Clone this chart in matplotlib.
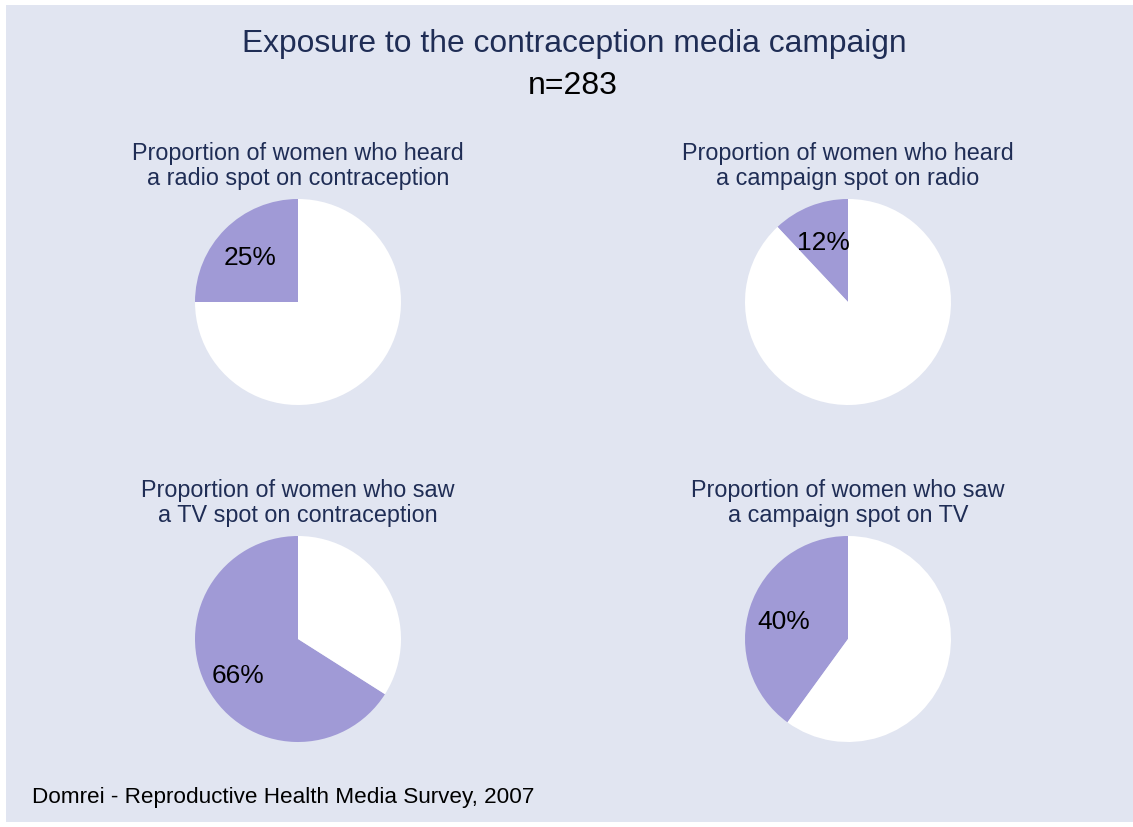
import math
import matplotlib.pyplot as plt
from matplotlib.patches import Rectangle

W, H = 1133, 827

title = "Exposure to the contraception media campaign"
subtitle = "n=283"
panel_titles = [
    "Proportion of women who heard\na radio spot on contraception",
    "Proportion of women who heard\na campaign spot on radio",
    "Proportion of women who saw\na TV spot on contraception",
    "Proportion of women who saw\na campaign spot on TV",
]
yes_pct = [25, 12, 66, 40]
footer = "Domrei - Reproductive Health Media Survey, 2007"

bg = '#e1e5f1'
purple = '#a09ad6'
navy = '#1f2d55'

plt.rcParams['font.family'] = ['Liberation Sans', 'DejaVu Sans']

fig = plt.figure(figsize=(W / 100, H / 100), dpi=100)
fig.patch.set_facecolor('white')
fig.patches.append(Rectangle((6 / W, 1 - 822 / H), (W - 6) / W, (822 - 5) / H,
                             transform=fig.transFigure, facecolor=bg,
                             edgecolor='none', zorder=-1))

fig.text(574 / W, 1 - 44 / H, title, ha='center', va='center', fontsize=22.9, color=navy)
fig.text(573 / W, 1 - 86 / H, subtitle, ha='center', va='center', fontsize=23, color='black')

# pie centres in pixels (x, y from top)
centres = [(298, 302), (848, 302), (298, 639), (848, 639)]
R = 103

for (cx, cy), ttl, p in zip(centres, panel_titles, yes_pct):
    ax = fig.add_axes([(cx - R) / W, 1 - (cy + R) / H, 2 * R / W, 2 * R / H])
    ax.pie([p, 100 - p], colors=[purple, 'white'], startangle=90,
           counterclock=True, radius=1,
           wedgeprops=dict(linewidth=0))
    ang = math.radians(90 + 3.6 * p / 2)
    ax.text(0.66 * math.cos(ang), 0.66 * math.sin(ang) - 0.04,
            f"{p}%", ha='center', va='center', fontsize=19, color='black')
    ax.set_xlim(-1, 1)
    ax.set_ylim(-1, 1)
    ax.set_aspect('equal')
    ax.axis('off')
    fig.text(cx / W, 1 - (cy - 136) / H, ttl, ha='center', va='center',
             fontsize=16.8, color=navy, linespacing=1.1)

fig.text(32 / W, 1 - 797 / H, footer, ha='left', va='center', fontsize=16.2, color='black')

fig.savefig('out.png', dpi=100, facecolor=fig.get_facecolor())
